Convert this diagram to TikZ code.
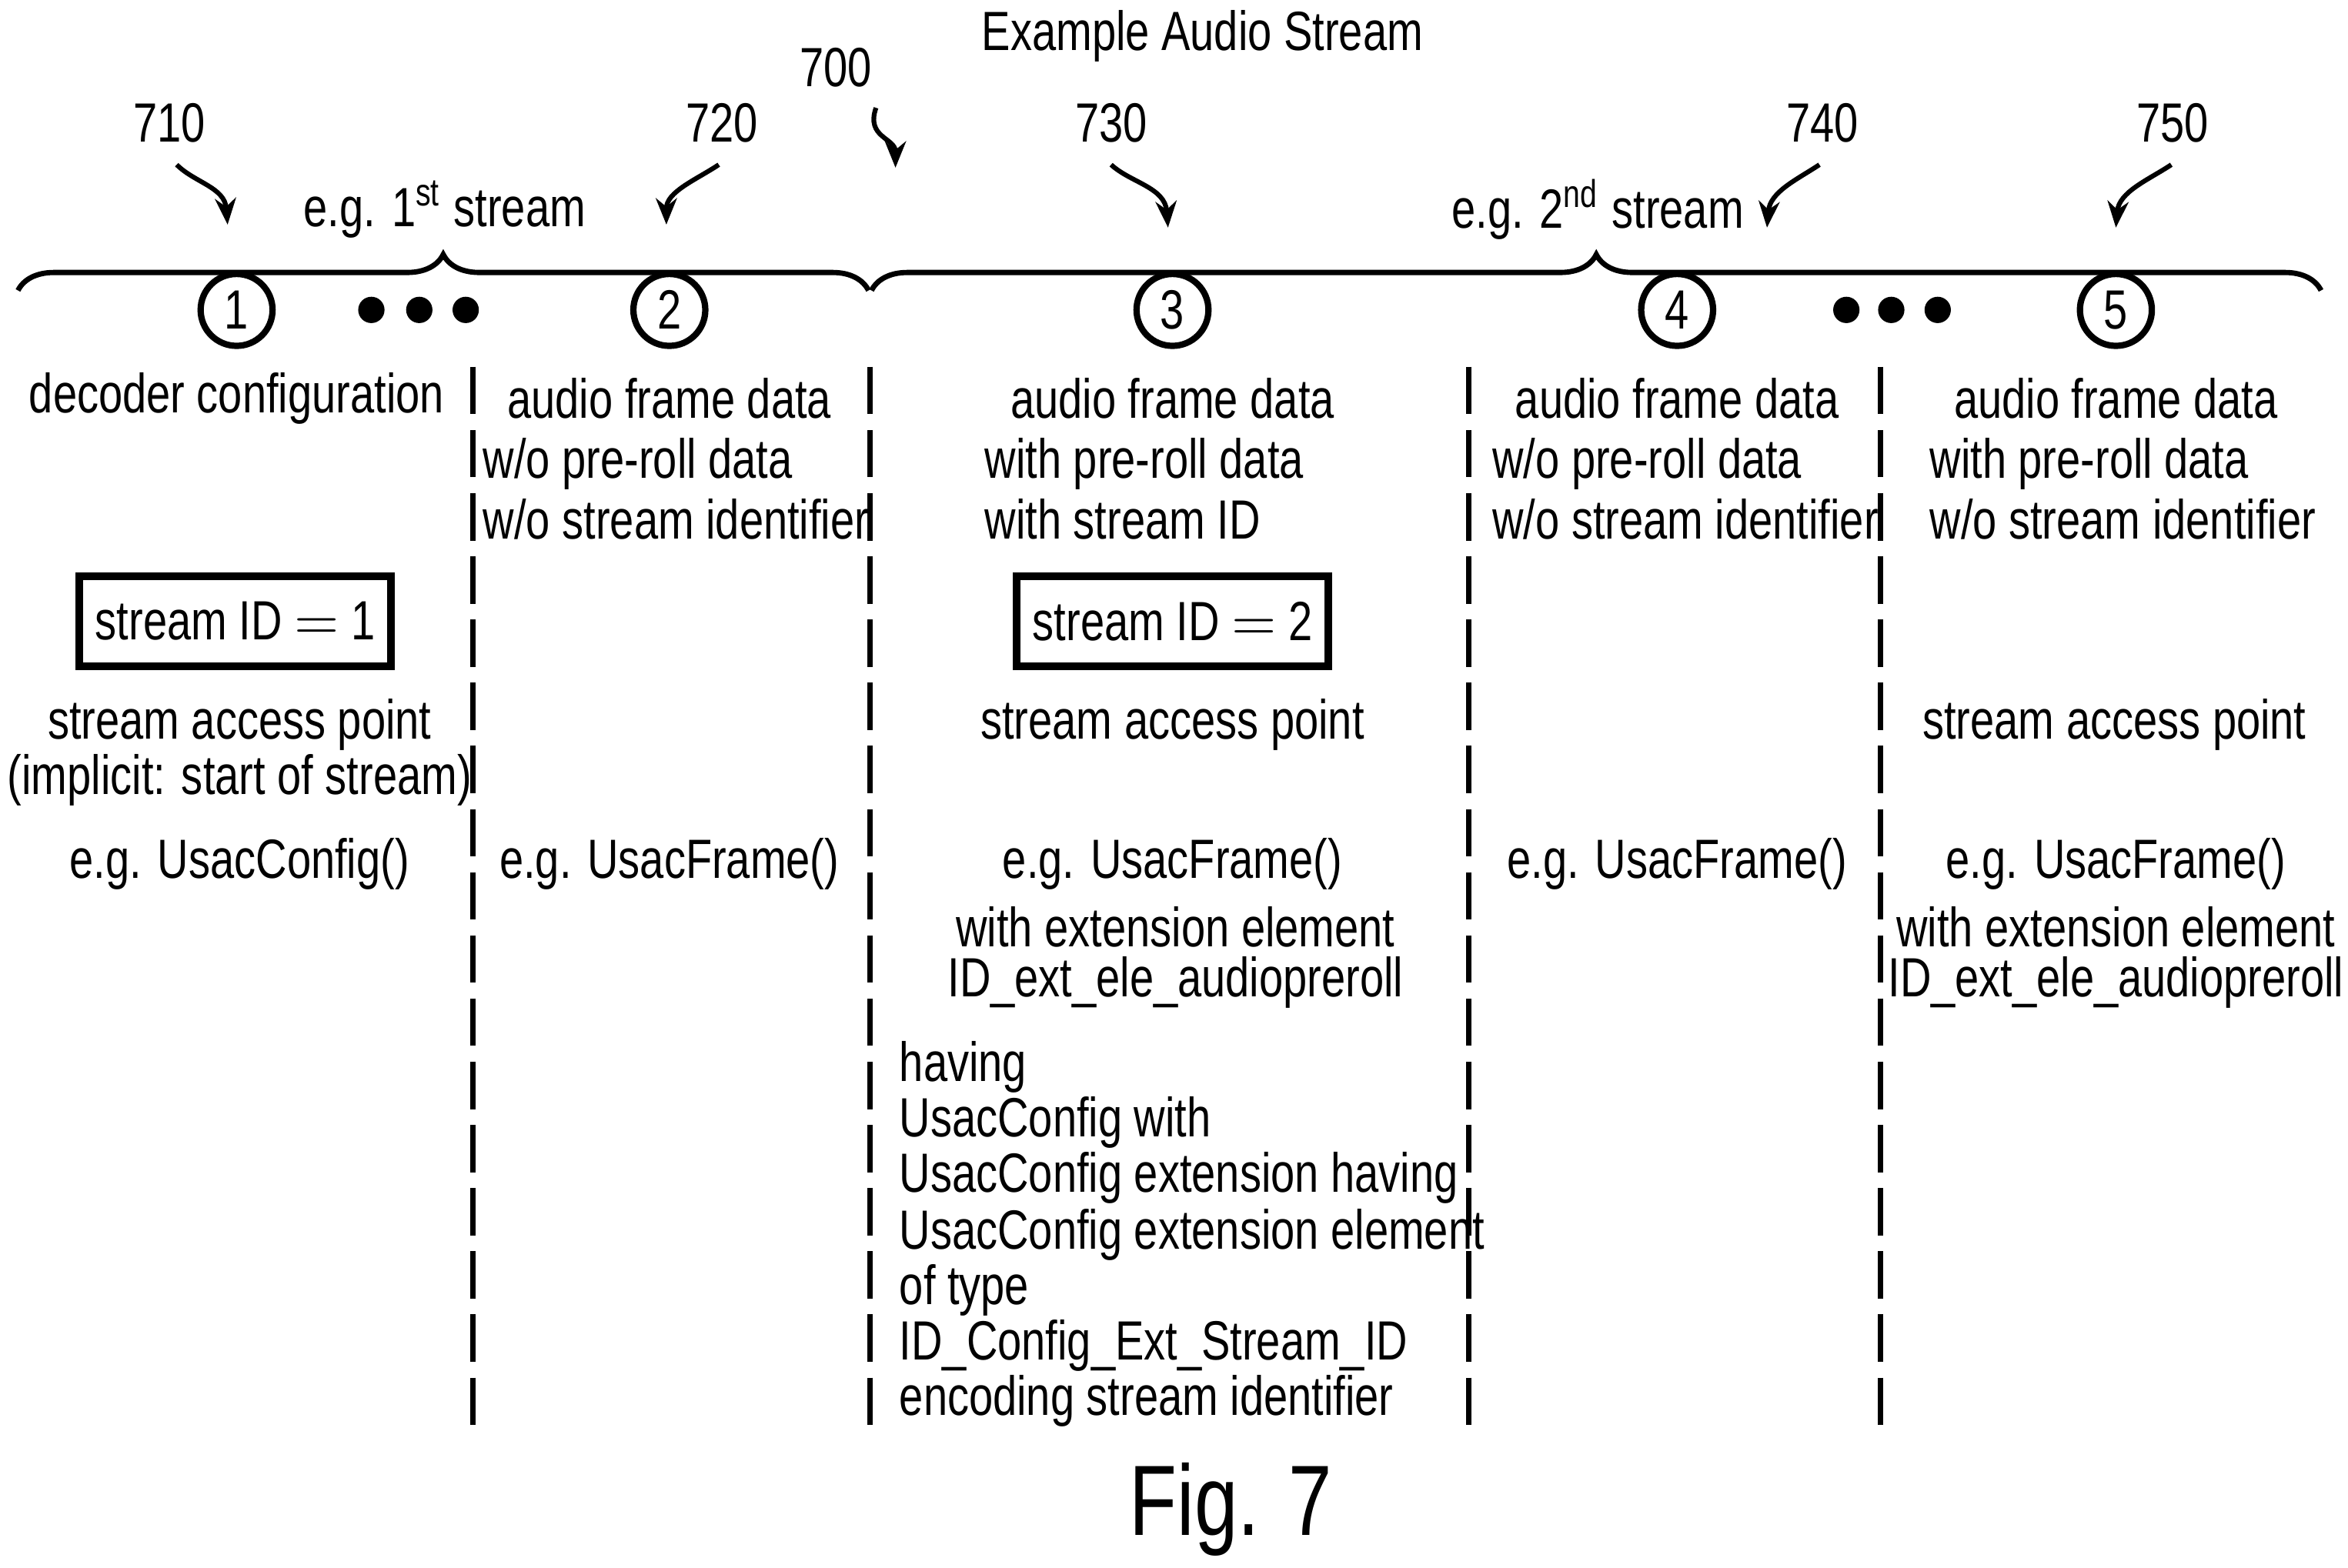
\documentclass[tikz,border=0pt]{standalone}
\usepackage{fontspec}
\setmainfont{Liberation Sans}[FakeStretch=0.78]
\usetikzlibrary{decorations.pathreplacing,arrows.meta}
\begin{document}
\begin{tikzpicture}[x=0.01cm,y=-0.01cm,
  every node/.style={font=\fontsize{10.5}{10.5}\selectfont,inner sep=0pt},
  lab/.style={anchor=center},
  ll/.style={anchor=west},
  num/.style={circle,draw,line width=1.2pt,minimum size=0.48cm},
  dv/.style={dashed,line width=1pt,dash pattern=on 9pt off 3pt},
  ref/.style={-{Stealth[length=5pt,width=4pt]},line width=0.9pt},
  idbox/.style={draw,line width=1.4pt,minimum width=2.08cm,minimum height=0.6cm},
  dot/.style={circle,fill,minimum size=5pt}]
\useasboundingbox (0,0) rectangle (1568,1047);
\node (title) at (803,24) {Example Audio Stream};
\node (n700) at (558,45) {700};
\node (n710) at (113,82) {710};
\node (n720) at (482,82) {720};
\node (n730) at (742,82) {730};
\node (n740) at (1217,82) {740};
\node (n750) at (1451,82) {750};
\coordinate (t700) at (598,112);
\coordinate (t710) at (152,150);
\coordinate (t720) at (445,150);
\coordinate (t730) at (780,152);
\coordinate (t740) at (1180,152);
\coordinate (t750) at (1413,152);
\draw[ref] (585,72) .. controls (578,92) and (598,92) .. (t700);
\draw[ref] (118,110) .. controls (130,122) and (150,125) .. (t710);
\draw[ref] (480,110) .. controls (465,120) and (445,128) .. (t720);
\draw[ref] (742,110) .. controls (755,122) and (778,125) .. (t730);
\draw[ref] (1215,110) .. controls (1200,120) and (1182,128) .. (t740);
\draw[ref] (1450,110) .. controls (1435,120) and (1415,128) .. (t750);
\node (s1) at (297,140) {e.g. 1\textsuperscript{st} stream};
\node (s2) at (1067,140) {e.g. 2\textsuperscript{nd} stream};
\draw[line width=1pt,decorate,decoration={brace,amplitude=0.24cm}] (12,194) -- (580,194);
\draw[line width=1pt,decorate,decoration={brace,amplitude=0.24cm}] (582,194) -- (1550,194);
\node[num] (c1) at (158,207) {1};
\node[num] (c2) at (447,207) {2};
\node[num] (c3) at (783,207) {3};
\node[num] (c4) at (1120,207) {4};
\node[num] (c5) at (1413,207) {5};
\foreach \x/\n in {248/a,280/b,311/c,1233/d,1263/e,1294/f} \node[dot] (d\n) at (\x,207) {};
\coordinate (v1a) at (316,245); \coordinate (v1b) at (316,955);
\coordinate (v2a) at (581,245); \coordinate (v2b) at (581,955);
\coordinate (v3a) at (981,245); \coordinate (v3b) at (981,955);
\coordinate (v4a) at (1256,245); \coordinate (v4b) at (1256,955);
\draw[dv] (v1a) -- (v1b); \draw[dv] (v2a) -- (v2b); \draw[dv] (v3a) -- (v3b); \draw[dv] (v4a) -- (v4b);
\node (h1) at (158,266) {decoder configuration};
\node (h2) at (447,266) {audio frame data};
\node (h3) at (783,266) {audio frame data};
\node (h4) at (1120,266) {audio frame data};
\node (h5) at (1413,266) {audio frame data};
\node[ll] (a2) at (322,310) {w/o pre-roll data};
\node[ll] (b2) at (322,347) {w/o stream identifier};
\node[ll] (a3) at (657,310) {with pre-roll data};
\node[ll] (b3) at (657,347) {with stream ID};
\node[ll] (a4) at (996,310) {w/o pre-roll data};
\node[ll] (b4) at (996,347) {w/o stream identifier};
\node[ll] (a5) at (1288,310) {with pre-roll data};
\node[ll] (b5) at (1288,347) {w/o stream identifier};
\node[idbox] (id1) at (157,415) {stream ID $=$ 1};
\node[idbox] (id2) at (783,415) {stream ID $=$ 2};
\node (p1) at (160,484) {stream access point};
\node (i1) at (160,521) {(implicit: start of stream)};
\node (p3) at (783,484) {stream access point};
\node (p5) at (1412,484) {stream access point};
\node (u1) at (160,577) {e.g. UsacConfig()};
\node (u2) at (447,577) {e.g. UsacFrame()};
\node (u3) at (783,577) {e.g. UsacFrame()};
\node (u4) at (1120,577) {e.g. UsacFrame()};
\node (u5) at (1413,577) {e.g. UsacFrame()};
\node (w3) at (785,619) {with extension element};
\node (x3) at (785,656) {ID\_ext\_ele\_audiopreroll};
\node (w5) at (1413,619) {with extension element};
\node (x5) at (1413,656) {ID\_ext\_ele\_audiopreroll};
\node[ll] (l1) at (600,713) {having};
\node[ll] (l2) at (600,750) {UsacConfig with};
\node[ll] (l3) at (600,787) {UsacConfig extension having};
\node[ll] (l4) at (600,825) {UsacConfig extension element};
\node[ll] (l5) at (600,862) {of type};
\node[ll] (l6) at (600,899) {ID\_Config\_Ext\_Stream\_ID};
\node[ll] (l7) at (600,936) {encoding stream identifier};
\node[font=\fontsize{19}{19}\selectfont] (fig) at (822,1008) {Fig. 7};
\end{tikzpicture}
\end{document}
